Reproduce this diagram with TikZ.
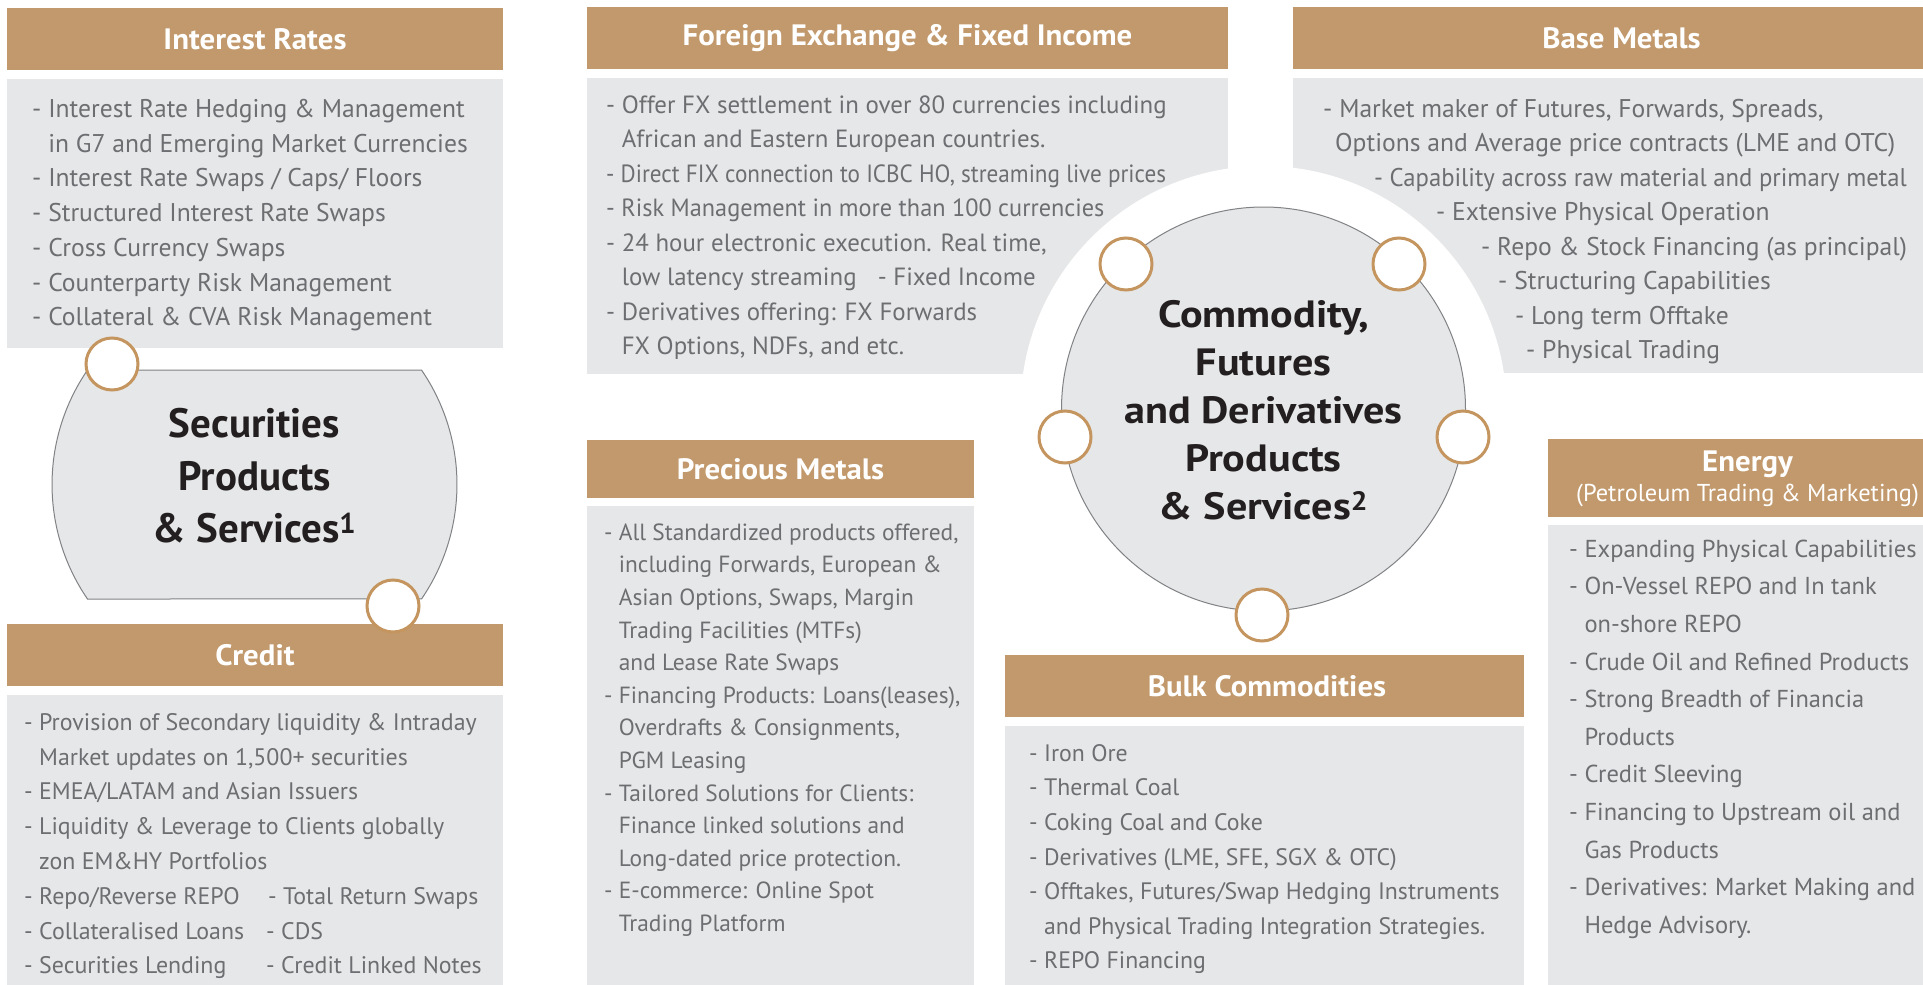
\documentclass[tikz,border=0pt]{standalone}
\usepackage{graphicx}
\usepackage{fontspec}
\setmainfont{PT Sans}
\newfontfamily\hdrfont[FakeStretch=1.045]{PT Sans}
\newfontfamily\comfont[FakeStretch=1.11]{PT Sans}
\definecolor{tanhdr}{HTML}{C2996C}
\definecolor{tanline}{HTML}{C4955E}
\definecolor{graybody}{HTML}{E6E7E8}
\definecolor{txtgray}{HTML}{6D6E71}
\definecolor{txtdark}{HTML}{231F20}
\definecolor{edgegray}{HTML}{808285}
\tikzset{
  hdrtext/.style={text=white, inner sep=0, font=\fontsize{29.5}{31}\selectfont\hdrfont\bfseries},
  body/.style={text=txtgray, inner sep=0, anchor=north west, align=left},
  dot/.style={circle, draw=tanline, line width=3pt, fill=white, minimum size=52, inner sep=0},
  bigtext/.style={text=txtdark, inner sep=0, align=center},
}
\newcommand{\ind}{\hphantom{- }}
\newcommand{\st}{\rule{0pt}{20pt}}
\newcommand{\squeeze}[2]{\scalebox{#1}[1]{#2}}
\begin{document}
\begin{tikzpicture}[x=1pt,y=-1pt]
\useasboundingbox (0,0) rectangle (1923,985);
\fill[white] (0,0) rectangle (1923,985);

% ---------- Interest Rates ----------
\fill[tanhdr] (7,8) rectangle (503,70);
\node[hdrtext] (irh) at (255,39) {Interest Rates};
\fill[graybody] (7,79) rectangle (503,348);
\node[body, font=\fontsize{25.6}{34.7}\selectfont] (irb) at (32,97.3) {\st- Interest Rate Hedging \& Management\\
\ind in G7 and Emerging Market Currencies\\
- Interest Rate Swaps / Caps/ Floors\\
- Structured Interest Rate Swaps\\
- Cross Currency Swaps\\
- Counterparty Risk Management\\
- Collateral \& CVA Risk Management};

% ---------- Securities shape ----------
\path[fill=graybody, draw=edgegray, line width=1pt]
  (87.5,370) -- (421.5,370) arc[start angle=-34.43, end angle=34.43, radius=202.5]
  -- (87.5,599) arc[start angle=145.57, end angle=214.43, radius=202.5] -- cycle;
\node[bigtext, font=\fontsize{41}{52.5}\selectfont\bfseries] (sec) at (254.5,476) {Securities\\Products\\\& Services\textsuperscript{1}};

% ---------- Credit ----------
\fill[tanhdr] (7,624) rectangle (503,686);
\node[hdrtext] (crh) at (255,655) {Credit};
\fill[graybody] (7,695) rectangle (503,985);
\node[body, font=\fontsize{23.9}{34.8}\selectfont] (crb) at (24,710) {\st- Provision of Secondary liquidity \& Intraday\\
\ind Market updates on 1,500+ securities\\
- EMEA/LATAM and Asian Issuers\\
- Liquidity \& Leverage to Clients globally\\
\ind zon EM\&HY Portfolios\\
\makebox[244pt][l]{- Repo/Reverse REPO}- Total Return Swaps\\
\makebox[242pt][l]{- Collateralised Loans}- CDS\\
\makebox[242pt][l]{- Securities Lending}- Credit Linked Notes};

\node[dot] (s1) at (112,364) {};
\node[dot] (s2) at (393,606) {};

% ---------- Foreign Exchange ----------
\fill[tanhdr] (587,7) rectangle (1228,69);
\node[hdrtext] (fxh) at (907.5,38) {Foreign Exchange \& Fixed Income};
\fill[graybody] (587,78) rectangle (1228,374);
\node[body, font=\fontsize{24.9}{34.5}\selectfont] (fxb) at (606,93) {\st- Offer FX settlement in over 80 currencies including\\
\ind African and Eastern European countries.\\
\squeeze{0.93}{- Direct FIX connection to ICBC HO, streaming live prices}\\
\squeeze{0.975}{- Risk Management in more than 100 currencies}\\
- 24 hour electronic execution. Real time,\\
\ind \makebox[256pt][l]{low latency streaming}- Fixed Income\\
- Derivatives offering: FX Forwards\\
\ind FX Options, NDFs, and etc.};

% ---------- Base Metals ----------
\fill[tanhdr] (1293,7) rectangle (1923,69);
\node[hdrtext] (bmh) at (1621.5,38) {Base Metals};
\fill[graybody] (1293,78) rectangle (1923,373);
\node[body, font=\fontsize{25.6}{34.5}\selectfont] (bmb) at (1323,97) {\st- Market maker of Futures, Forwards, Spreads,\\
\hspace*{12pt}Options and Average price contracts (LME and OTC)\\
\hspace*{51pt}\squeeze{0.965}{- Capability across raw material and primary metal}\\
\hspace*{113pt}- Extensive Physical Operation\\
\hspace*{158pt}- Repo \& Stock Financing (as principal)\\
\hspace*{175pt}- Structuring Capabilities\\
\hspace*{192pt}- Long term Offtake\\
\hspace*{203pt}- Physical Trading};

% ---------- Commodity circle ----------
\fill[white] (1263.5,409) circle[radius=243];
\node[circle, fill=graybody, draw=edgegray, line width=1pt, minimum size=404, inner sep=0] (com) at (1263.5,409) {};
\node[bigtext, font=\fontsize{38}{48}\selectfont\comfont\bfseries] (comt) at (1263.5,410) {Commodity,\\Futures\\and Derivatives\\Products\\\& Services\textsuperscript{2}};
\node[dot] (c1) at (1126,264) {};
\node[dot] (c2) at (1399,264) {};
\node[dot] (c3) at (1065,437) {};
\node[dot] (c4) at (1463,437) {};
\node[dot] (c5) at (1262,615) {};

% ---------- Precious Metals ----------
\fill[tanhdr] (587,440) rectangle (974,498);
\node[hdrtext] (pmh) at (780.5,469) {Precious Metals};
\fill[graybody] (587,506) rectangle (974,985);
\node[body, font=\fontsize{23.4}{32.6}\selectfont] (pmb) at (604,520) {\st- All Standardized products offered,\\
\ind including Forwards, European \&\\
\ind Asian Options, Swaps, Margin\\
\ind Trading Facilities (MTFs)\\
\ind and Lease Rate Swaps\\
- Financing Products: Loans(leases),\\
\ind Overdrafts \& Consignments,\\
\ind PGM Leasing\\
- Tailored Solutions for Clients:\\
\ind Finance linked solutions and\\
\ind Long-dated price protection.\\
- E-commerce: Online Spot\\
\ind Trading Platform};

% ---------- Bulk Commodities ----------
\fill[tanhdr] (1005,655) rectangle (1524,717);
\node[hdrtext] (bch) at (1267,686) {Bulk Commodities};
\fill[graybody] (1005,726) rectangle (1524,985);
\node[body, font=\fontsize{23.8}{34.6}\selectfont] (bcb) at (1029,741) {\st- Iron Ore\\
- Thermal Coal\\
- Coking Coal and Coke\\
- Derivatives (LME, SFE, SGX \& OTC)\\
- Offtakes, Futures/Swap Hedging Instruments\\
\ind and Physical Trading Integration Strategies.\\
- REPO Financing};

% ---------- Energy ----------
\fill[tanhdr] (1548,439) rectangle (1923,517);
\node[hdrtext] (enh) at (1747.5,464) {Energy};
\node[text=white, inner sep=0, font=\fontsize{24.4}{26}\selectfont] (ens) at (1747.5,495) {(Petroleum Trading \& Marketing)};
\fill[graybody] (1548,525) rectangle (1923,985);
\node[body, font=\fontsize{24.5}{37.6}\selectfont] (enb) at (1569,537) {\st- Expanding Physical Capabilities\\
- On-Vessel REPO and In tank\\
\ind on-shore REPO\\
- Crude Oil and Refined Products\\
- Strong Breadth of Financia\\
\ind Products\\
- Credit Sleeving\\
- Financing to Upstream oil and\\
\ind Gas Products\\
- Derivatives: Market Making and\\
\ind Hedge Advisory.};
\end{tikzpicture}
\end{document}
